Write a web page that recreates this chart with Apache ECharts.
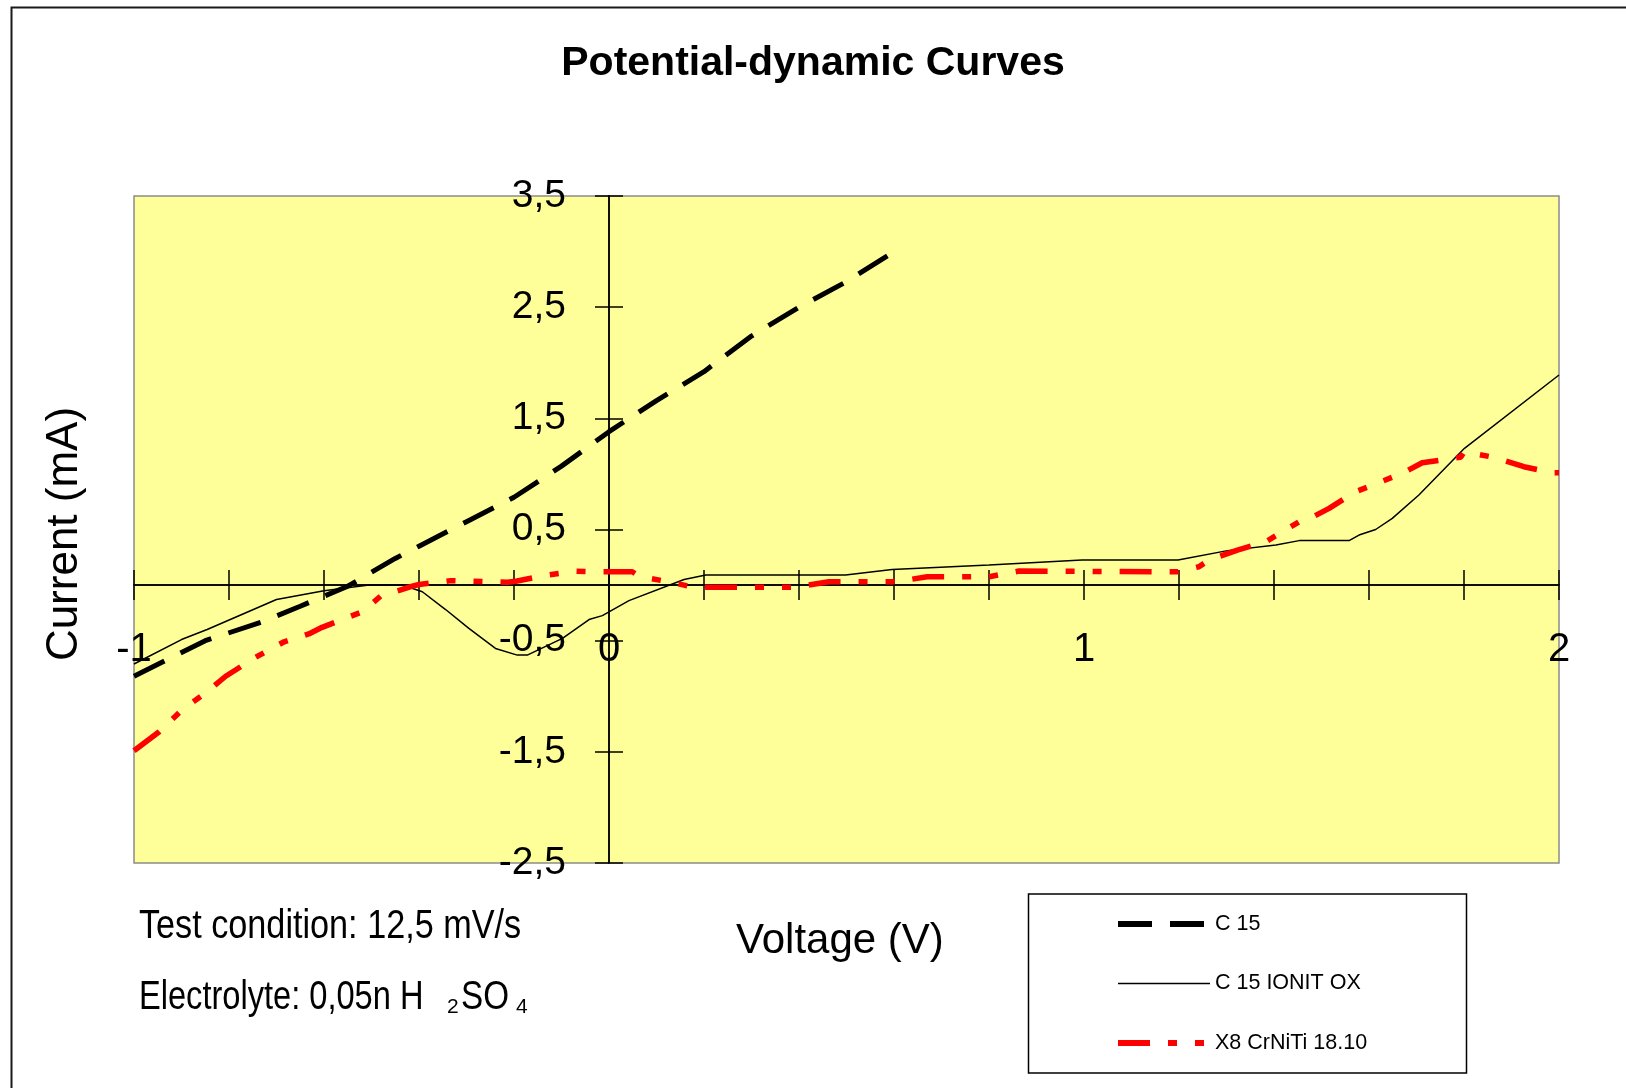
<!DOCTYPE html>
<html>
<head>
<meta charset="utf-8">
<script src="https://cdn.jsdelivr.net/npm/echarts@6/dist/echarts.min.js"></script>
<style>
html,body{margin:0;padding:0;background:#fff;}
#chart{width:1626px;height:1088px;}
</style>
</head>
<body>
<div id="chart"></div>
<script>
// ---- Data ----
const seriesNames = ['C 15', 'C 15 IONIT OX', 'X8 CrNiTi 18.10'];

const c15X = [-1.0, -0.85, -0.73, -0.65, -0.55, -0.45, -0.40, -0.30, -0.25, -0.20, -0.10, 0.0, 0.10, 0.20, 0.30, 0.40, 0.50, 0.60];
const c15Y = [-0.82, -0.50, -0.33, -0.19, -0.01, 0.24, 0.35, 0.57, 0.68, 0.79, 1.07, 1.38, 1.66, 1.92, 2.24, 2.50, 2.73, 3.00];

const ionX = [-1.0, -0.90, -0.846, -0.70, -0.60, -0.505, -0.435, -0.393, -0.344, -0.295, -0.239, -0.193, -0.172, -0.098, -0.042, -0.014, 0.042, 0.158, 0.204, 0.498, 0.596, 0.80, 0.996, 1.198, 1.302, 1.404, 1.453, 1.558, 1.579, 1.614, 1.649, 1.705, 1.801, 2.0];
const ionY = [-0.71, -0.49, -0.40, -0.13, -0.05, 0.0, 0.0, -0.06, -0.22, -0.39, -0.57, -0.63, -0.63, -0.48, -0.31, -0.275, -0.14, 0.05, 0.09, 0.09, 0.14, 0.18, 0.225, 0.225, 0.31, 0.36, 0.40, 0.40, 0.45, 0.50, 0.60, 0.81, 1.23, 1.89];

const x8X = [-1.0, -0.947, -0.898, -0.849, -0.807, -0.744, -0.684, -0.632, -0.604, -0.519, -0.481, -0.414, -0.40, -0.333, -0.214, -0.196, -0.13, -0.07, -0.032, 0.049, 0.066, 0.126, 0.183, 0.204, 0.389, 0.463, 0.604, 0.67, 0.80, 0.863, 1.198, 1.242, 1.263, 1.323, 1.383, 1.453, 1.467, 1.516, 1.572, 1.67, 1.712, 1.793, 1.801, 1.867, 1.926, 1.986, 2.0];
const x8Y = [-1.49, -1.32, -1.12, -0.97, -0.82, -0.65, -0.51, -0.44, -0.38, -0.24, -0.10, -0.01, 0.005, 0.04, 0.025, 0.035, 0.09, 0.125, 0.12, 0.12, 0.075, 0.03, -0.025, -0.02, -0.02, 0.03, 0.03, 0.075, 0.075, 0.126, 0.12, 0.165, 0.225, 0.315, 0.39, 0.57, 0.58, 0.69, 0.84, 1.005, 1.10, 1.15, 1.20, 1.145, 1.065, 1.01, 1.01];

const xTickLabels = [-1, 0, 1, 2];
const yTickLabels = [-2.5, -1.5, -0.5, 0.5, 1.5, 2.5, 3.5];

const titleText = 'Potential-dynamic Curves';
const xAxisTitle = 'Voltage (V)';
const yAxisTitle = 'Current (mA)';
const noteLine1 = 'Test condition: 12,5 mV/s';
// ---------------------------------------

const pair = (xs, ys) => xs.map((x, i) => [x, ys[i]]);
const fmt = v => String(Math.round(v * 10) / 10).replace('.', ',');
const FONT = 'Liberation Sans';

// plot-area layout (pixels)
const G = { left: 134, right: 67, top: 196, bottom: 225 };
const plotW = 1626 - G.left - G.right;
const plotH = 1088 - G.top - G.bottom;
// shift axes so they cross at value 0 (layout only)
const yAxisOffset = -plotW * (0 - (-1)) / (2 - (-1));
const xAxisOffset = -plotH * (0 - (-2.5)) / (3.5 - (-2.5));

const dashC15 = [34, 18];
const dashX8 = [32, 18, 9, 18, 9, 18];

const chart = echarts.init(document.getElementById('chart'), null, { renderer: 'canvas' });

const axisLineStyle = { show: true, onZero: false, lineStyle: { color: '#000', width: 1.5 } };
const xBase = {
  type: 'value', min: -1, max: 2, interval: 0.2, gridIndex: 0, position: 'bottom',
  offset: xAxisOffset, splitLine: { show: false }, axisLine: axisLineStyle
};
const yBase = {
  type: 'value', min: -2.5, max: 3.5, interval: 0.5, gridIndex: 0, position: 'left',
  offset: yAxisOffset, splitLine: { show: false }, axisLine: axisLineStyle
};
const hiddenItem = { color: 'rgba(0,0,0,0)', borderWidth: 0, opacity: 0 };

const option = {
  animation: false,
  backgroundColor: '#ffffff',
  textStyle: { fontFamily: FONT },
  title: {
    text: titleText, left: 'center', top: 38,
    textStyle: { fontFamily: FONT, fontSize: 41, fontWeight: 'bold', color: '#000' }
  },
  grid: {
    left: G.left, right: G.right, top: G.top, bottom: G.bottom,
    show: true, backgroundColor: '#FFFF99', borderColor: '#8c8c8c', borderWidth: 1.5,
    containLabel: false, outerBoundsMode: 'none'
  },
  xAxis: [
    Object.assign({}, xBase, {
      axisTick: { show: true, inside: false, length: 15, lineStyle: { color: '#000', width: 1.5 } },
      axisLabel: {
        show: true, customValues: xTickLabels, formatter: fmt, margin: 45,
        fontFamily: FONT, fontSize: 40, color: '#000', hideOverlap: false
      }
    }),
    Object.assign({}, xBase, {
      axisTick: { show: true, inside: true, length: 15, lineStyle: { color: '#000', width: 1.5 } },
      axisLabel: { show: false }
    })
  ],
  yAxis: [
    Object.assign({}, yBase, {
      axisTick: { show: true, inside: false, length: 14, customValues: yTickLabels, lineStyle: { color: '#000', width: 1.5 } },
      axisLabel: {
        show: true, customValues: yTickLabels, formatter: fmt, margin: 43,
        fontFamily: FONT, fontSize: 39, color: '#000', hideOverlap: false
      }
    }),
    Object.assign({}, yBase, {
      axisTick: { show: true, inside: true, length: 14, customValues: yTickLabels, lineStyle: { color: '#000', width: 1.5 } },
      axisLabel: { show: false }
    })
  ],
  legend: {
    orient: 'vertical', left: 1115, top: 913, padding: 0,
    itemWidth: 92, itemHeight: 22, itemGap: 37.5,
    textStyle: { fontFamily: FONT, fontSize: 21.5, lineHeight: 22, color: '#000' },
    itemStyle: hiddenItem,
    data: [
      { name: seriesNames[0], lineStyle: { color: '#000', width: 6, type: dashC15 }, itemStyle: hiddenItem },
      { name: seriesNames[1], lineStyle: { color: '#000', width: 1.5, type: 'solid' }, itemStyle: hiddenItem },
      { name: seriesNames[2], lineStyle: { color: '#FF0000', width: 6, type: dashX8 }, itemStyle: hiddenItem }
    ]
  },
  graphic: [
    { type: 'rect', silent: true, shape: { x: 11.5, y: 7.5, width: 1700, height: 1200 },
      style: { fill: 'none', stroke: '#1a1a1a', lineWidth: 2 } },
    { type: 'rect', silent: true, shape: { x: 1028.5, y: 894, width: 438, height: 179 },
      style: { fill: 'none', stroke: '#000', lineWidth: 1.5 } },
    { type: 'text', silent: true, x: 65, y: 534, rotation: Math.PI / 2,
      style: { text: yAxisTitle, fontFamily: FONT, fontSize: 44, fill: '#000', align: 'center', verticalAlign: 'middle' } },
    { type: 'text', silent: true, x: 736, y: 941,
      style: { text: xAxisTitle, fontFamily: FONT, fontSize: 42, fill: '#000', align: 'left', verticalAlign: 'middle' } },
    { type: 'text', silent: true, x: 139, y: 927, scaleX: 0.855,
      style: { text: noteLine1, fontFamily: FONT, fontSize: 40, fill: '#000', align: 'left', verticalAlign: 'middle' } },
    { type: 'text', silent: true, x: 139, y: 997.5, scaleX: 0.815,
      style: { text: 'Electrolyte: 0,05n H', fontFamily: FONT, fontSize: 40, fill: '#000', align: 'left', verticalAlign: 'middle' } },
    { type: 'text', silent: true, x: 447, y: 1007.5,
      style: { text: '2', fontFamily: FONT, fontSize: 21, fill: '#000', align: 'left', verticalAlign: 'middle' } },
    { type: 'text', silent: true, x: 461, y: 997.5, scaleX: 0.83,
      style: { text: 'SO', fontFamily: FONT, fontSize: 40, fill: '#000', align: 'left', verticalAlign: 'middle' } },
    { type: 'text', silent: true, x: 516, y: 1007.5,
      style: { text: '4', fontFamily: FONT, fontSize: 21, fill: '#000', align: 'left', verticalAlign: 'middle' } }
  ],
  series: [
    {
      name: seriesNames[0], type: 'line', xAxisIndex: 0, yAxisIndex: 0,
      data: pair(c15X, c15Y), symbol: 'none', smooth: false,
      lineStyle: { color: '#000', width: 5, type: dashC15 }, itemStyle: { color: '#000' }
    },
    {
      name: seriesNames[1], type: 'line', xAxisIndex: 0, yAxisIndex: 0,
      data: pair(ionX, ionY), symbol: 'none', smooth: false,
      lineStyle: { color: '#000', width: 1.5, type: 'solid' }, itemStyle: { color: '#000' }
    },
    {
      name: seriesNames[2], type: 'line', xAxisIndex: 0, yAxisIndex: 0,
      data: pair(x8X, x8Y), symbol: 'none', smooth: false,
      lineStyle: { color: '#FF0000', width: 5.5, type: dashX8 }, itemStyle: { color: '#FF0000' }
    }
  ]
};
chart.setOption(option);
</script>
</body>
</html>
